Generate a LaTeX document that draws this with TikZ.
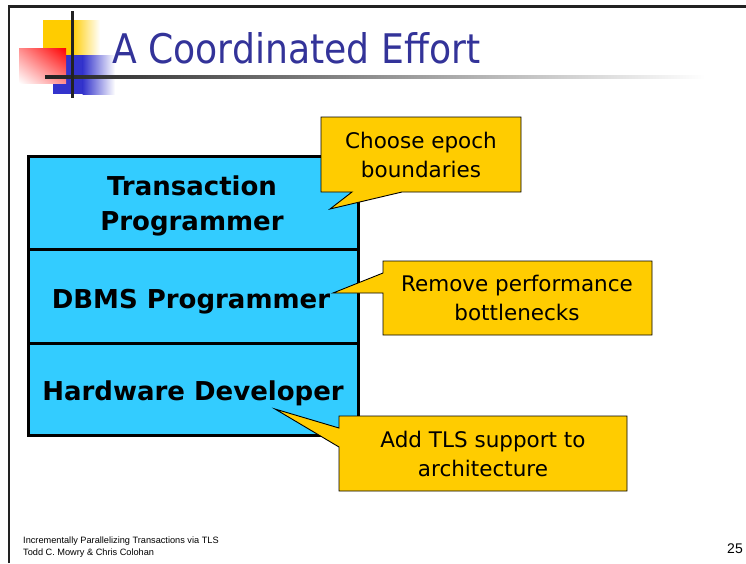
\documentclass[tikz,border=0pt]{standalone}
\usepackage{graphicx}
\usepackage{fontspec}
\setmainfont{DejaVu Sans}
\newfontfamily\footfont{Liberation Sans}
\usetikzlibrary{shadings}
\definecolor{layercyan}{HTML}{33CCFF}
\definecolor{calloutyellow}{HTML}{FFCC00}
\definecolor{titleblue}{HTML}{333399}
\definecolor{logoblue}{HTML}{3333CC}
\definecolor{logoyellow}{HTML}{FFCC00}
\definecolor{darkline}{HTML}{222222}
\tikzset{
  layerbox/.style={draw=black, line width=2.6pt, fill=layercyan, minimum width=330pt, inner sep=0pt, anchor=north west},
  layertext/.style={font=\fontsize{26}{35}\selectfont\bfseries, align=center, inner sep=0pt},
  callout/.style={draw=black, line width=0.9pt, fill=calloutyellow},
  callouttext/.style={font=\fontsize{21.5}{29}\selectfont, align=center, inner sep=0pt},
  foottext/.style={anchor=base west, inner sep=0pt, font=\footfont\fontsize{9.2}{12}\selectfont},
}
\begin{document}
\begin{tikzpicture}[x=1pt, y=-1pt]
\useasboundingbox (0,0) rectangle (746,563);
% slide frame
\draw[line width=2.6pt, darkline] (9,563) -- (9,6.5) -- (746,6.5);
% logo
\fill[logoyellow] (43,20) rectangle (72,55);
\shade[left color=logoyellow, right color=white] (71.5,20) rectangle (100,55);
\fill[logoblue] (53,55) rectangle (83,94);
\shade[left color=logoblue, right color=white] (82.5,55) rectangle (115,94);
\shade[upper right=red, lower left=white, upper left=red!45!white, lower right=red!45!white] (19,48) rectangle (66,83);
\shade[left color=darkline, right color=white] (45,75.5) rectangle (705,78.5);
\draw[line width=3pt, darkline] (72,11) -- (72,98);
% title
\node[anchor=base west, inner sep=0pt, text=titleblue] (title) at (112,63)
  {\resizebox{368pt}{31pt}{\fontsize{40}{40}\selectfont A Coordinated Effort}};
% layered stack
\node[layerbox, minimum height=93pt] (tp) at (27,155) {};
\node[layerbox, minimum height=94pt] (dp) at (27,248) {};
\node[layerbox, minimum height=92pt] (hd) at (27,342) {};
\node[layertext] (tptext) at (192,206) {Transaction\\Programmer};
\node[layertext, anchor=base] (dptext) at (191,308) {DBMS Programmer};
\node[layertext, anchor=base] (hdtext) at (193,400) {Hardware Developer};
% callouts
\draw[callout] (321,117) -- (521,117) -- (521,192) -- (402,192) -- (330,209) -- (352,192) -- (321,192) -- cycle;
\node[callouttext] (c1) at (421,155) {Choose epoch\\boundaries};
\draw[callout] (383,261) -- (652,261) -- (652,335) -- (383,335) -- (383,293) -- (333,293) -- (383,273) -- cycle;
\node[callouttext] (c2) at (517,298) {Remove performance\\bottlenecks};
\draw[callout] (339,416) -- (627,416) -- (627,491) -- (339,491) -- (339,447) -- (275,409) -- (339,428) -- cycle;
\node[callouttext] (c3) at (483,454) {Add TLS support to\\architecture};
% footer
\node[foottext] (foot1) at (23,543) {Incrementally Parallelizing Transactions via TLS};
\node[foottext] (foot2) at (23,555) {Todd C. Mowry \& Chris Colohan};
\node[anchor=base east, inner sep=0pt, font=\footfont\fontsize{14}{14}\selectfont] (pagenum) at (743,553) {25};
\end{tikzpicture}
\end{document}
